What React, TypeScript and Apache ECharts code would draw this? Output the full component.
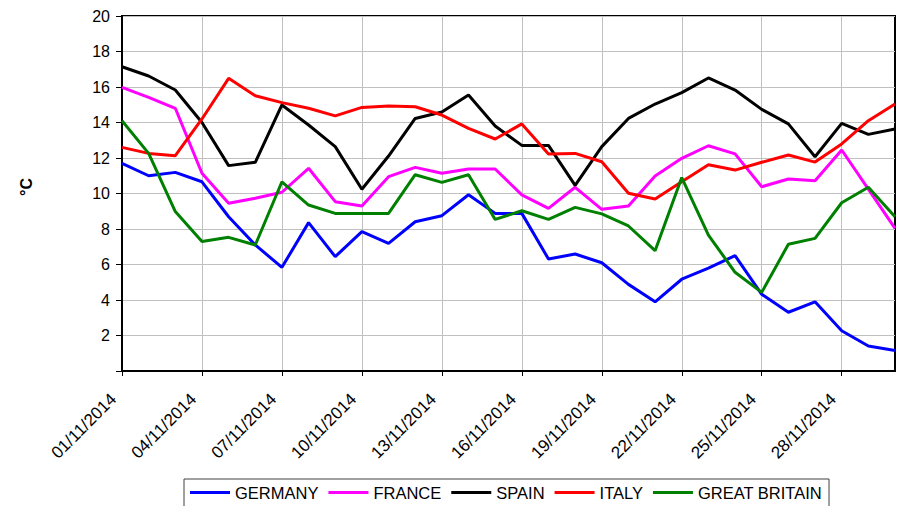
import React, { useEffect, useRef } from "react";
import * as echarts from "echarts";

const categories = [
  "01/11/2014", "02/11/2014", "03/11/2014", "04/11/2014", "05/11/2014", "06/11/2014",
  "07/11/2014", "08/11/2014", "09/11/2014", "10/11/2014", "11/11/2014", "12/11/2014",
  "13/11/2014", "14/11/2014", "15/11/2014", "16/11/2014", "17/11/2014", "18/11/2014",
  "19/11/2014", "20/11/2014", "21/11/2014", "22/11/2014", "23/11/2014", "24/11/2014",
  "25/11/2014", "26/11/2014", "27/11/2014", "28/11/2014", "29/11/2014", "30/11/2014",
];

const germany = [11.7, 11.0, 11.19, 10.66, 8.69, 7.1, 5.84, 8.36, 6.44, 7.85, 7.19, 8.41, 8.75, 9.93, 8.88, 8.88, 6.31, 6.59, 6.1, 4.88, 3.9, 5.17, 5.79, 6.5, 4.32, 3.31, 3.9, 2.27, 1.41, 1.15];
const france = [15.98, 15.42, 14.8, 11.14, 9.45, 9.73, 10.07, 11.42, 9.54, 9.3, 10.95, 11.47, 11.14, 11.38, 11.38, 9.92, 9.16, 10.35, 9.11, 9.3, 10.99, 11.98, 12.69, 12.23, 10.38, 10.82, 10.72, 12.45, 10.25, 8.04];
const spain = [17.14, 16.62, 15.83, 14.0, 11.57, 11.76, 14.99, 13.86, 12.64, 10.24, 12.11, 14.23, 14.59, 15.55, 13.8, 12.71, 12.71, 10.46, 12.64, 14.23, 15.04, 15.68, 16.51, 15.83, 14.74, 13.92, 12.07, 13.95, 13.33, 13.63];
const italy = [12.6, 12.26, 12.13, 14.2, 16.49, 15.51, 15.12, 14.8, 14.37, 14.85, 14.93, 14.89, 14.42, 13.67, 13.07, 13.92, 12.23, 12.26, 11.79, 10.01, 9.69, 10.66, 11.62, 11.32, 11.76, 12.17, 11.77, 12.79, 14.1, 15.04];
const greatBritain = [14.1, 12.26, 8.98, 7.29, 7.53, 7.1, 10.66, 9.35, 8.88, 8.88, 8.88, 11.06, 10.63, 11.06, 8.54, 9.03, 8.54, 9.22, 8.85, 8.17, 6.78, 10.9, 7.66, 5.56, 4.43, 7.14, 7.47, 9.48, 10.35, 8.69];

const seriesNames = ["GERMANY", "FRANCE", "SPAIN", "ITALY", "GREAT BRITAIN"];
const seriesColors = ["#0000ff", "#ff00ff", "#000000", "#ff0000", "#008000"];
const seriesData = [germany, france, spain, italy, greatBritain];

const FONT = "'Liberation Sans', Arial, sans-serif";

export default function App() {
  const ref = useRef<HTMLDivElement>(null);
  useEffect(() => {
    if (!ref.current) return;
    const chart = echarts.init(ref.current, null, { renderer: "svg" });
    chart.setOption({
      animation: false,
      backgroundColor: "#ffffff",
      textStyle: { fontFamily: FONT },
      grid: {
        left: 122,
        top: 16,
        right: 6,
        bottom: 135,
        show: true,
        borderColor: "#000",
        borderWidth: 2,
        backgroundColor: "transparent",
      },
      legend: {
        data: seriesNames.map((n) => ({ name: n, icon: "rect" })),
        left: 184,
        top: 479,
        itemWidth: 40,
        itemHeight: 3,
        itemGap: 10,
        padding: [5, 7, 30, 6],
        borderColor: "#404040",
        borderWidth: 1,
        textStyle: { fontSize: 16.5, color: "#000", fontFamily: FONT },
      },
      xAxis: {
        type: "category",
        data: categories,
        boundaryGap: false,
        axisLine: { lineStyle: { color: "#000", width: 2 } },
        axisTick: { show: true, interval: 2, length: 5, lineStyle: { color: "#000", width: 1 } },
        axisLabel: {
          interval: 2,
          rotate: 45,
          margin: 17,
          fontSize: 17,
          color: "#000",
          fontFamily: FONT,
          padding: [0, 12, 0, 0],
        },
        splitLine: { show: true, interval: 2, lineStyle: { color: "#c0c0c0", width: 1 } },
      },
      yAxis: {
        type: "value",
        min: 0,
        max: 20,
        interval: 2,
        axisLine: { show: true, lineStyle: { color: "#000", width: 2 } },
        axisTick: { show: true, length: 6, lineStyle: { color: "#000", width: 1 } },
        axisLabel: {
          margin: 12,
          fontSize: 16,
          color: "#000",
          fontFamily: FONT,
          formatter: (v: number) => (v === 0 ? "" : String(v)),
        },
        splitLine: { show: true, lineStyle: { color: "#c0c0c0", width: 1 } },
      },
      graphic: [
        {
          type: "text",
          x: 26,
          y: 187,
          rotation: Math.PI / 2,
          style: {
            text: "°C",
            font: "bold 16px " + FONT,
            fill: "#000",
            textAlign: "center",
            textVerticalAlign: "middle",
          },
        },
      ],
      series: seriesNames.map((name, i) => ({
        name,
        type: "line",
        data: seriesData[i],
        symbol: "none",
        color: seriesColors[i],
        lineStyle: { color: seriesColors[i], width: 3 },
      })),
    });
    return () => chart.dispose();
  }, []);
  return (
    <div
      ref={ref}
      style={{ position: "fixed", left: 0, top: 0, width: 901, height: 506, background: "#fff" }}
    />
  );
}
